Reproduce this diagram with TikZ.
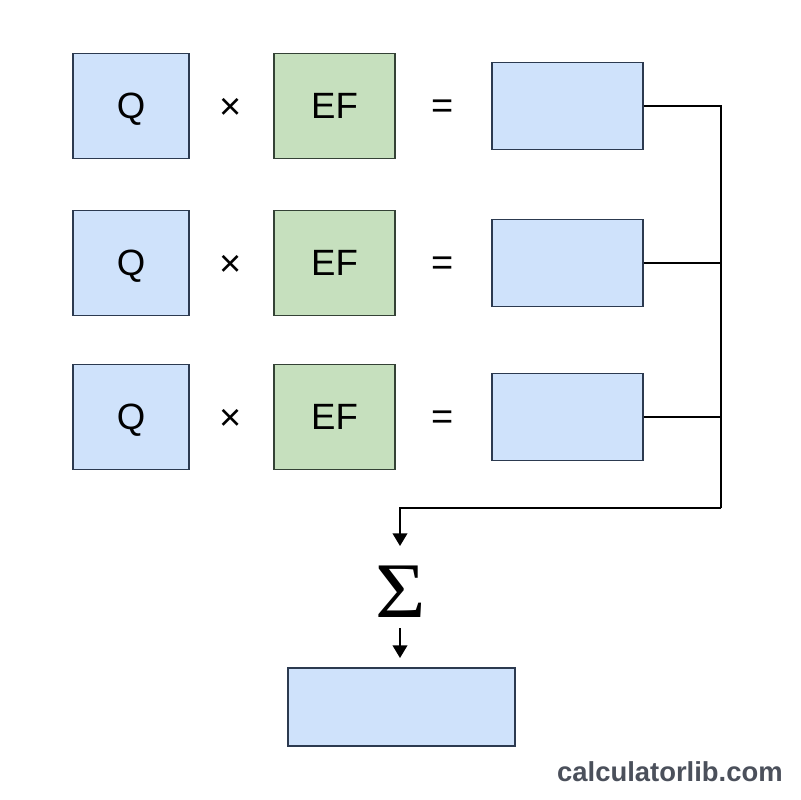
\documentclass[tikz,border=0pt]{standalone}
\usepackage{fontspec}
\setmainfont{Liberation Sans}
\newfontfamily\sigmafont{Liberation Serif}
\usepackage{tikz}
\usetikzlibrary{arrows.meta,positioning,calc}
\usepackage{xcolor}
\definecolor{qblue}{RGB}{207,226,251}
\definecolor{qbluedraw}{RGB}{44,58,80}
\definecolor{efgreen}{RGB}{198,224,190}
\definecolor{efgreendraw}{RGB}{52,66,54}
\definecolor{sitegray}{RGB}{75,80,91}

\tikzset{
  qbox/.style={draw=qbluedraw,fill=qblue,line width=0.8pt,minimum width=2.9cm,minimum height=2.625cm,text depth=0pt,font=\fontsize{26}{30}\selectfont},
  efbox/.style={draw=efgreendraw,fill=efgreen,line width=0.8pt,minimum width=3.025cm,minimum height=2.625cm,text depth=0pt,font=\fontsize{26}{30}\selectfont},
  resbox/.style={draw=qbluedraw,fill=qblue,line width=0.8pt,minimum width=3.775cm,minimum height=2.175cm},
  opsym/.style={font=\fontsize{27}{30}\selectfont},
  link/.style={line width=1pt},
  flow/.style={line width=1pt,-{Triangle[length=9pt,width=10.5pt]}}
}

\begin{document}
\begin{tikzpicture}[x=0.025cm,y=-0.025cm]
    \fill[white] (0,0) rectangle (800,800);
    \useasboundingbox (0,0) rectangle (800,800);

    % Rows: Q x EF = result
    \foreach \r/\y in {1/106,2/263,3/417} {
      \node[qbox] (q\r) at (131,\y) {Q};
      \node[opsym] (times\r) at (231,\y+3) {×};
      \node[efbox] (ef\r) at (334.5,\y) {EF};
      \node[opsym] (eq\r) at (443,\y+3) {=};
      \node[resbox] (res\r) at (567.5,\y) {};
    }

    % Collecting line
    \coordinate (bus1) at (721,106);
    \coordinate (bus2) at (721,263);
    \coordinate (bus3) at (721,417);
    \coordinate (busend) at (721,508);
    \coordinate (turn) at (400,508);
    \draw[link] (res1.east) -- (bus1) -- (busend);
    \draw[link] (res2.east) -- (bus2);
    \draw[link] (res3.east) -- (bus3);

    % Sum
    \node[font=\sigmafont\fontsize{56}{60}\selectfont,inner sep=0pt,text depth=0pt] (sum) at (401,592) {\scalebox{1.1}[1]{Σ}};
    \coordinate (sumin) at (400,546);
    \draw[flow] (busend) -- (turn) -- (sumin);

    % Total
    \node[resbox,minimum width=5.675cm,minimum height=1.95cm] (total) at (401.5,707) {};
    \coordinate (sumout) at (400,628);
    \coordinate (totalin) at (400,658);
    \draw[flow] (sumout) -- (totalin);

    \node[font=\bfseries\fontsize{19.5}{22}\selectfont,text=sitegray,anchor=east,inner sep=0pt] (site) at (783,772) {calculatorlib.com};
\end{tikzpicture}
\end{document}
